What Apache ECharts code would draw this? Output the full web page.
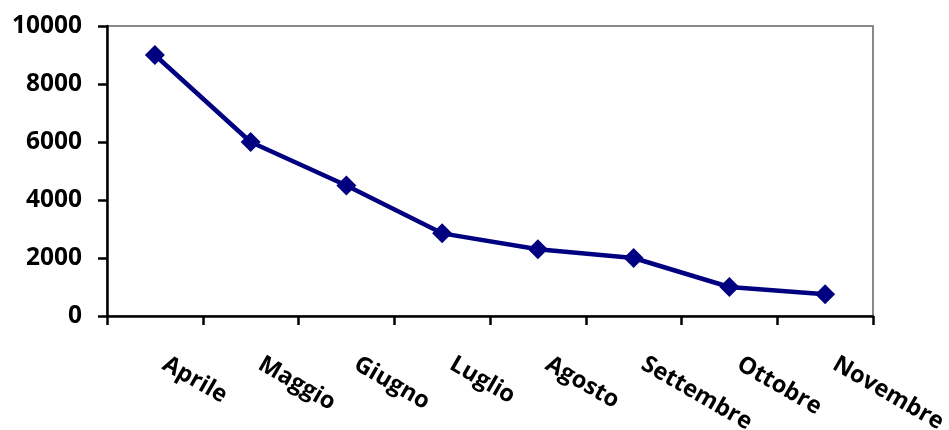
<!DOCTYPE html>
<html>
<head>
<meta charset="utf-8">
<script src="https://cdn.jsdelivr.net/npm/echarts@6/dist/echarts.min.js"></script>
<style>
  html, body { margin: 0; padding: 0; background: #fff; }
  #chart { width: 949px; height: 430px; }
</style>
</head>
<body>
<div id="chart"></div>
<script>
// Monthly values
const months = ['Aprile', 'Maggio', 'Giugno', 'Luglio', 'Agosto', 'Settembre', 'Ottobre', 'Novembre'];
const values = [9000, 6000, 4500, 2850, 2300, 2000, 1000, 750];
const yTicks = [0, 2000, 4000, 6000, 8000, 10000];

const font = '"Open Sans", Lato, sans-serif';
const chart = echarts.init(document.getElementById('chart'), null, { renderer: 'canvas' });

chart.setOption({
  animation: false,
  backgroundColor: '#ffffff',
  grid: {
    left: 107, right: 76, top: 26, bottom: 114,
    outerBoundsMode: 'none', containLabel: false,
    show: true, borderColor: '#888888', borderWidth: 2, backgroundColor: 'transparent'
  },
  xAxis: {
    type: 'category',
    data: months,
    boundaryGap: true,
    axisLine: { lineStyle: { color: '#000', width: 2.5 } },
    axisTick: { show: true, interval: 0, length: 9, lineStyle: { color: '#000', width: 2.5 } },
    axisLabel: {
      interval: 0, rotate: -30, margin: 41, padding: [0, 0, 0, 11],
      color: '#000', fontFamily: font, fontWeight: 700, fontSize: 23.5
    },
    splitLine: { show: false }
  },
  yAxis: {
    type: 'value',
    min: yTicks[0], max: yTicks[yTicks.length - 1], interval: 2000,
    axisLine: { show: true, lineStyle: { color: '#000', width: 2.5 } },
    axisTick: { show: true, length: 9, lineStyle: { color: '#000', width: 2.5 } },
    axisLabel: {
      margin: 25, color: '#000', fontFamily: font, fontWeight: 700, fontSize: 24.5,
      formatter: v => String(v)
    },
    splitLine: { show: false }
  },
  series: [{
    type: 'line',
    data: values,
    symbol: 'diamond',
    symbolSize: 20,
    lineStyle: { color: '#000080', width: 4.5 },
    itemStyle: { color: '#000080' }
  }]
});
</script>
</body>
</html>
